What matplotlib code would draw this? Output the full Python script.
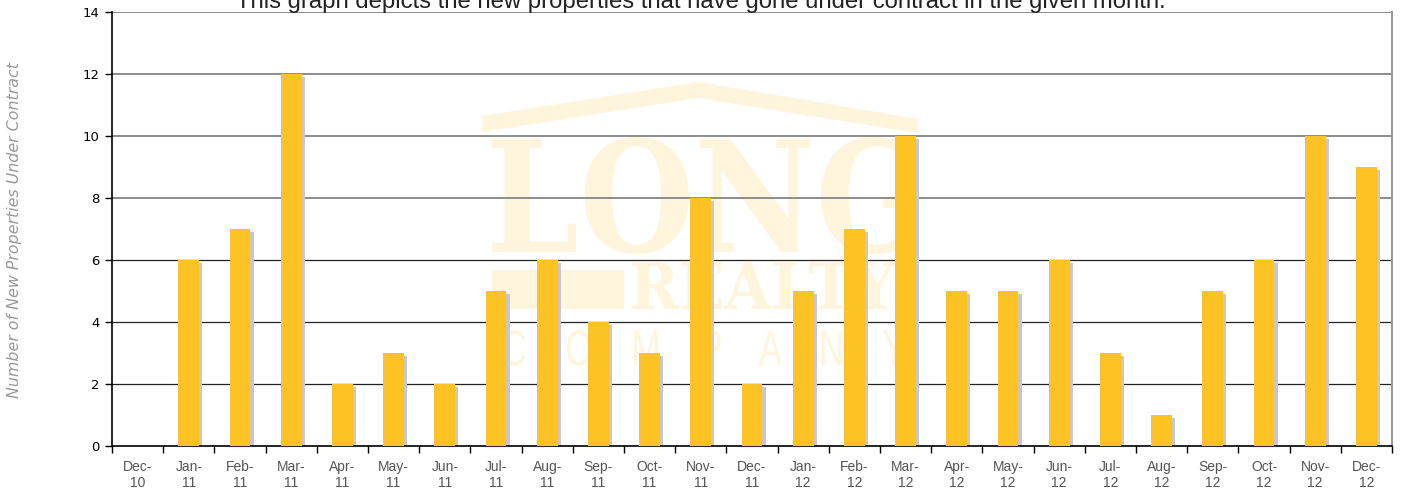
import matplotlib
matplotlib.use("Agg")
import matplotlib.pyplot as plt
import numpy as np
from matplotlib.textpath import TextPath
from matplotlib.patches import PathPatch, Polygon
from matplotlib.font_manager import FontProperties
from matplotlib.transforms import Affine2D

# data
months = ["Dec-\n10", "Jan-\n11", "Feb-\n11", "Mar-\n11", "Apr-\n11", "May-\n11",
          "Jun-\n11", "Jul-\n11", "Aug-\n11", "Sep-\n11", "Oct-\n11", "Nov-\n11",
          "Dec-\n11", "Jan-\n12", "Feb-\n12", "Mar-\n12", "Apr-\n12", "May-\n12",
          "Jun-\n12", "Jul-\n12", "Aug-\n12", "Sep-\n12", "Oct-\n12", "Nov-\n12",
          "Dec-\n12"]
under_contract = [0, 6, 7, 12, 2, 3, 2, 5, 6, 4, 3, 8, 2, 5, 7, 10, 5, 5, 6, 3, 1, 5, 6, 10, 9]
y_ticks = [0, 2, 4, 6, 8, 10, 12, 14]

W, H = 1402, 491
BAR = "#FDC324"
SHADOW = "#C8C8C8"
MARK = "#FEF5DC"

fig = plt.figure(figsize=(W / 100, H / 100), dpi=100)
ax = fig.add_axes([112 / W, 1 - 446 / H, 1280 / W, 434 / H])


def px(x, y):
    """pixel (top-left origin) -> figure fraction"""
    return x / W, 1 - y / H


def text_in_box(s, x0, y0, x1, y1, prop):
    """stretch a text path into a pixel box, drawn behind the bars"""
    tp = TextPath((0, 0), s, prop=prop, size=100)
    bb = tp.get_extents()
    fx0, fy1 = px(x0, y0)
    fx1, fy0 = px(x1, y1)
    tr = (Affine2D().translate(-bb.x0, -bb.y0)
          .scale((fx1 - fx0) / bb.width, (fy1 - fy0) / bb.height)
          .translate(fx0, fy0))
    patch = PathPatch(tr.transform_path(tp), facecolor=MARK, edgecolor="none",
                      transform=fig.transFigure, zorder=0.5, clip_on=False)
    ax.add_artist(patch)


# watermark logo
serif_bold = FontProperties(family="DejaVu Serif", weight="bold")
roof = [px(482, 116), px(698, 82), px(918, 119), px(918, 133), px(698, 98), px(482, 132)]
ax.add_artist(Polygon(roof, closed=True, facecolor=MARK, edgecolor="none",
                      transform=fig.transFigure, zorder=0.5, clip_on=False))
text_in_box("LONG", 492, 137, 918, 254, serif_bold)
text_in_box("REALTY", 632, 262, 896, 309, serif_bold)
fx0, fy1 = px(492, 270)
fx1, fy0 = px(624, 309)
ax.add_artist(plt.Rectangle((fx0, fy0), fx1 - fx0, fy1 - fy0, facecolor=MARK,
                            edgecolor="none", transform=fig.transFigure,
                            zorder=0.5, clip_on=False))
text_in_box("C    O    M    P    A    N    Y", 503, 330, 905, 366,
            FontProperties(family="Liberation Sans"))

x = np.arange(len(months))
vals = np.array(under_contract)

# gridlines: lighter grey in upper half, dark lower
for v in y_ticks[1:]:
    col = "#7a7a7a" if v >= 8 else "#222222"
    ax.axhline(v, color=col, linewidth=1.2 if v >= 8 else 0.9, zorder=1)

ax.bar(x + 0.06, vals, width=0.41, bottom=-0.1, color=SHADOW, zorder=2)
ax.bar(x, vals, width=0.41, color=BAR, zorder=3)

ax.set_xlim(-0.5, len(months) - 0.5)
ax.set_ylim(0, 14)
ax.set_yticks(y_ticks)
ax.tick_params(axis="y", length=5, width=1, labelsize=9.5, colors="black", pad=4)

ax.set_xticks(np.arange(len(months) + 1) - 0.5)
ax.set_xticklabels([])
ax.set_xticks(x, minor=True)
ax.set_xticklabels(months, minor=True, fontsize=10, color="#555555",
                   family="Liberation Sans", linespacing=1.15)
ax.tick_params(axis="x", which="major", length=5, width=1, direction="out")
ax.tick_params(axis="x", which="minor", length=0, pad=10)

ax.spines["top"].set_visible(False)
ax.spines["right"].set_color("#999999")
ax.spines["right"].set_linewidth(1.5)
ax.spines["left"].set_color("black")
ax.spines["bottom"].set_color("black")
ax.spines["left"].set_linewidth(1.2)
ax.spines["bottom"].set_linewidth(1.2)

tx, ty = px(701, 8)
fig.text(tx, ty, "This graph depicts the new properties that have gone under contract in the given month.",
         ha="center", va="baseline", fontsize=17.2, color="#222222", family="Liberation Sans")

lx, ly = px(15, 230)
fig.text(lx, ly, "Number of New Properties Under Contract", rotation=90,
         ha="center", va="center", fontsize=11.4, style="italic", color="#999999")

fig.savefig("out.png", dpi=100)
